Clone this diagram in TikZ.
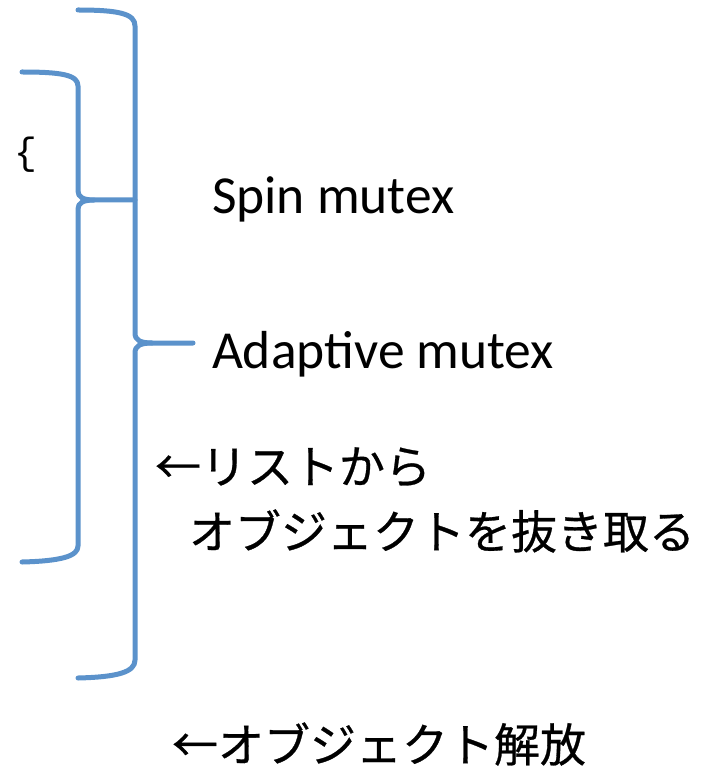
\documentclass[tikz,border=0pt]{standalone}
\usepackage{fontspec}
\newfontfamily\latinfont{Carlito}
\newfontfamily\jpfont[FakeBold=0.6]{Noto Sans CJK JP}
\newfontfamily\codefont{Liberation Mono}
\definecolor{braceblue}{RGB}{91,146,203}
\tikzset{
  bracepath/.style={draw=braceblue, line width=5pt, line cap=round, line join=round},
  label/.style={inner sep=0pt, outer sep=0pt, text=black},
  latinlabel/.style={label, anchor=base west, font=\latinfont\fontsize{53.5}{60}\selectfont},
  jplabel/.style={label, anchor=west, font=\jpfont\fontsize{46}{50}\selectfont},
}
\begin{document}
\begin{tikzpicture}[x=1pt, y=-1pt]
  \useasboundingbox (0,0) rectangle (711,767);

  % outer brace: spin section down to the release step
  \path[bracepath]
    (78,10) .. controls (120,10) and (135,14) .. (135,26)
    -- (135,333) .. controls (135,340) and (140,343) .. (152,343) -- (193,343);
  \path[bracepath]
    (152,343) .. controls (140,343) and (135,346) .. (135,353)
    -- (135,660) .. controls (135,672) and (118,677) .. (78,678);

  % inner brace: lock held while the object is taken from the list
  \path[bracepath]
    (22,72) .. controls (62,72) and (78,75) .. (78,86)
    -- (78,191) .. controls (78,197) and (83,200) .. (94,200) -- (135,200);
  \path[bracepath]
    (94,200) .. controls (83,200) and (78,203) .. (78,209)
    -- (78,546) .. controls (78,556) and (62,561) .. (22,562);

  % labels
  \node[label, font=\codefont\fontsize{38}{42}\selectfont] (brace) at (25.5,155) {\{};
  \node[latinlabel] (spin) at (212,213) {Spin mutex};
  \node[latinlabel] (adaptive) at (212,368) {Adaptive mutex};
  \node[jplabel] (take1) at (155,467) {←リストから};
  \node[jplabel] (take2) at (189,531) {オブジェクトを抜き取る};
  \node[jplabel] (release) at (172,744) {←オブジェクト解放};
\end{tikzpicture}
\end{document}
